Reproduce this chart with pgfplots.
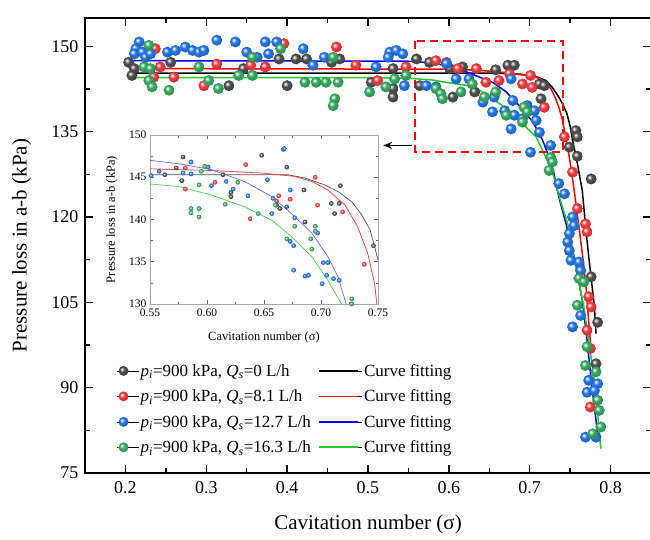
\documentclass[border=0pt]{standalone}
\usepackage{fontspec}
\setmainfont{Liberation Serif}
\usepackage{pgfplots}
\pgfplotsset{compat=1.18}
\usetikzlibrary{arrows.meta}
\definecolor{cblk}{HTML}{4E4E4E}
\definecolor{cred}{HTML}{EE3B3F}
\definecolor{cblu}{HTML}{2475E0}
\definecolor{cgrn}{HTML}{38A862}
\definecolor{lgreen}{HTML}{22CC22}
\colorlet{ballc}{red}
\pgfdeclareradialshading[ballc]{myball}{\pgfqpoint{-9bp}{9bp}}{%
  color(0bp)=(white);
  color(5bp)=(ballc!35!white);
  color(12bp)=(ballc);
  color(26bp)=(ballc!85!black);
  color(40bp)=(ballc!65!black);
  color(50bp)=(ballc!60!black)}
\pgfdeclareplotmark{myball}{%
  \pgfpathcircle{\pgfpointorigin}{\pgfplotmarksize}%
  \pgfshadepath{myball}{0}%
  \pgfusepath{discard}}
\tikzset{myball color/.code={\colorlet{ballc}{#1}}}
\pgfplotsset{ballmark/.style={only marks, mark=myball, mark options={myball color=#1}}}
\begin{document}
\begin{tikzpicture}
\path[use as bounding box] (-85pt,-66pt) rectangle (565pt,473pt);
\begin{axis}[
  at={(0pt,0pt)}, anchor=south west,
  scale only axis, width=566pt, height=455pt,
  xmin=0.15, xmax=0.85, ymin=75, ymax=155,
  xtick={0.2,0.3,0.4,0.5,0.6,0.7,0.8},
  xticklabels={0.2,0.3,0.4,0.5,0.6,0.7,0.8},
  ytick={75,90,105,120,135,150},
  yticklabels={75,90,105,120,135,150},
  minor x tick num=1, minor y tick num=1,
  tick align=inside,
  major tick length=8pt, minor tick length=5pt,
  axis line style={line width=1.6pt},
  every tick/.style={black, line width=1.3pt},
  /pgf/number format/assume math mode=true,
  ticklabel style={font=\fontsize{18}{20}\selectfont},
  xticklabel style={yshift=-5pt},
  yticklabel style={xshift=-3pt},
  label style={font=\fontsize{21}{24}\selectfont},
  xlabel={Cavitation number (σ)},
  ylabel={Pressure loss in a-b (kPa)},
  xlabel style={at={(axis description cs:0.5,-0.114)}, anchor=center},
  ylabel style={at={(axis description cs:-0.112,0.5)}, anchor=center, rotate=0},
  legend columns=2,
  legend cell align=left,
  legend style={draw=none, fill=none, at={(0.055,0.244)}, anchor=north west,
    inner sep=0pt, font=\fontsize{17}{19}\selectfont, row sep=8pt,
    /tikz/every even column/.append style={column sep=5pt}},
]
% ---- scatter data ----
\addplot[ballmark=cblk, mark size=5.5pt, forget plot] coordinates {
(0.204,147.2)(0.211,146.1)(0.208,144.9)(0.256,147.2)(0.328,143.1)(0.346,146.1)(0.390,147.8)(0.400,143.1)
(0.411,147.8)(0.424,147.8)(0.455,147.2)(0.465,147.8)(0.504,143.7)(0.531,142.6)(0.531,141.1)(0.531,146.1)
(0.560,147.8)(0.564,143.1)(0.576,147.2)(0.601,146.1)(0.605,141.1)(0.632,142.0)(0.617,146.4)(0.673,146.7)
(0.681,146.7)(0.658,145.9)(0.712,143.4)(0.718,143.1)(0.714,140.8)(0.757,135.2)(0.759,134.1)(0.749,132.3)
(0.759,130.7)(0.776,126.7)(0.776,109.5)(0.784,101.5)(0.782,94.2)};
\addplot[ballmark=cred, mark size=5.5pt, forget plot] coordinates {
(0.237,149.6)(0.243,146.4)(0.235,144.6)(0.260,144.6)(0.297,143.1)(0.313,146.9)(0.355,146.7)(0.373,146.4)
(0.396,150.5)(0.461,149.9)(0.485,146.7)(0.512,144.0)(0.547,146.4)(0.584,147.5)(0.597,147.2)(0.611,146.1)
(0.634,146.1)(0.646,143.7)(0.662,144.0)(0.675,145.2)(0.691,143.4)(0.701,144.9)(0.703,142.8)(0.718,139.3)
(0.743,134.1)(0.753,127.9)(0.759,121.5)(0.769,118.8)(0.771,117.4)(0.773,106.0)(0.776,104.2)(0.771,100.1)
(0.775,96.9)(0.775,86.6)};
\addplot[ballmark=cblu, mark size=5.5pt, forget plot] coordinates {
(0.217,150.8)(0.213,149.6)(0.211,148.7)(0.221,149.0)(0.225,148.1)(0.231,148.7)(0.252,149.0)(0.262,149.3)
(0.274,149.9)(0.283,149.3)(0.291,149.0)(0.297,149.3)(0.313,151.1)(0.336,150.8)(0.350,149.0)(0.373,150.8)
(0.387,150.8)(0.377,148.7)(0.363,148.1)(0.420,149.6)(0.446,148.1)(0.432,146.7)(0.527,149.0)(0.535,149.3)
(0.543,148.7)(0.525,148.1)(0.545,143.1)(0.572,143.1)(0.584,142.9)(0.597,147.0)(0.609,144.3)(0.625,144.3)
(0.642,140.2)(0.654,138.5)(0.656,141.1)(0.510,146.4)(0.669,138.7)(0.677,144.3)(0.679,140.5)(0.681,137.9)
(0.691,137.3)(0.697,139.6)(0.706,138.7)(0.708,137.0)(0.712,134.9)(0.677,135.5)(0.726,132.6)(0.701,131.4)
(0.736,125.9)(0.743,124.1)(0.753,120.0)(0.755,118.5)(0.749,117.1)(0.747,115.6)(0.749,114.1)(0.751,112.4)
(0.761,112.1)(0.763,110.6)(0.763,102.7)(0.753,100.7)(0.773,91.3)(0.784,90.7)(0.771,89.2)(0.780,89.5)
(0.769,81.3)(0.782,81.3)};
\addplot[ballmark=cgrn, mark size=5.5pt, forget plot] coordinates {
(0.229,150.2)(0.223,146.4)(0.231,146.1)(0.229,144.0)(0.233,142.9)(0.254,142.3)(0.291,146.4)(0.303,144.0)
(0.315,142.6)(0.340,144.9)(0.357,148.1)(0.357,144.9)(0.392,149.6)(0.457,148.1)(0.422,143.7)(0.436,143.7)
(0.448,143.7)(0.463,143.7)(0.459,140.8)(0.457,139.6)(0.502,142.0)(0.522,142.9)(0.533,144.3)(0.547,144.9)
(0.584,142.6)(0.590,141.7)(0.592,140.8)(0.615,142.0)(0.629,143.4)(0.644,141.1)(0.658,142.0)(0.671,137.9)
(0.691,136.7)(0.693,139.3)(0.697,138.5)(0.726,130.5)(0.728,129.7)(0.724,128.2)(0.761,109.2)(0.767,108.6)
(0.759,104.5)(0.771,97.2)(0.769,93.9)(0.782,92.8)(0.784,87.8)(0.786,86.0)(0.788,83.1)(0.778,81.9)};
% ---- fitted curves ----
\addplot[black, line width=1.5pt, forget plot] coordinates {
(0.205,145.3)(0.60,145.3)(0.65,145.3)(0.68,145.2)(0.69,145.1)(0.70,144.9)(0.71,144.6)(0.72,144.0)(0.728,142.8)
(0.736,141.1)(0.741,139.8)(0.746,138.2)(0.750,136.0)(0.753,133.5)(0.756,131.5)(0.759,129.4)(0.762,127.0)
(0.765,124.7)(0.769,118.5)(0.773,113.0)(0.777,108.0)(0.780,104.2)(0.782,99.5)};
\addplot[red, line width=1.5pt, forget plot] coordinates {
(0.22,146.1)(0.60,146.0)(0.638,145.8)(0.67,145.4)(0.69,145.0)(0.70,144.9)(0.712,144.4)(0.72,143.6)(0.726,142.6)
(0.731,141.2)(0.736,139.3)(0.740,137.4)(0.743,135.2)(0.746,133.0)(0.749,130.5)(0.752,127.7)(0.755,124.7)
(0.759,120.3)(0.763,115.9)(0.767,111.4)(0.770,107.1)(0.773,101.5)(0.776,96.5)};
\addplot[blue, line width=1.5pt, forget plot] coordinates {
(0.205,147.5)(0.55,147.4)(0.58,147.1)(0.60,146.5)(0.62,145.6)(0.638,144.6)(0.654,143.7)(0.671,142.0)
(0.687,139.6)(0.704,136.7)(0.716,133.5)(0.724,130.5)(0.730,127.6)(0.736,123.5)(0.745,118.8)(0.755,113.0)
(0.765,105.4)(0.771,98.3)(0.777,90.0)(0.784,82.0)};
\addplot[lgreen, line width=1.5pt, forget plot] coordinates {
(0.21,144.5)(0.50,144.5)(0.55,144.4)(0.58,144.1)(0.60,143.6)(0.625,143.1)(0.638,142.3)(0.654,140.8)
(0.675,138.7)(0.691,136.4)(0.708,134.1)(0.720,130.5)(0.730,127.0)(0.738,122.9)(0.747,118.8)(0.757,111.2)
(0.767,104.2)(0.771,100.1)(0.780,91.3)(0.784,85.4)(0.788,79.3)};
% ---- legend ----
\addlegendimage{legend image code/.code={\path (-7pt,0pt) -- (15pt,0pt);\draw[only marks, mark=myball, mark size=5pt, myball color=cblk] plot coordinates {(0pt,0pt)};}}
\addlegendentry{\textit{p}\textsubscript{\textit{i}}=900 kPa, \textit{Q}\textsubscript{\textit{s}}=0 L/h}
\addlegendimage{legend image code/.code={\path (0pt,0pt) -- (43pt,0pt);\draw[black, line width=1.7pt] (0pt,0pt) -- (39pt,0pt);}}
\addlegendentry{Curve fitting}
\addlegendimage{legend image code/.code={\path (-7pt,0pt) -- (15pt,0pt);\draw[only marks, mark=myball, mark size=5pt, myball color=cred] plot coordinates {(0pt,0pt)};}}
\addlegendentry{\textit{p}\textsubscript{\textit{i}}=900 kPa, \textit{Q}\textsubscript{\textit{s}}=8.1 L/h}
\addlegendimage{legend image code/.code={\path (0pt,0pt) -- (43pt,0pt);\draw[red, line width=1.7pt] (0pt,0pt) -- (39pt,0pt);}}
\addlegendentry{Curve fitting}
\addlegendimage{legend image code/.code={\path (-7pt,0pt) -- (15pt,0pt);\draw[only marks, mark=myball, mark size=5pt, myball color=cblu] plot coordinates {(0pt,0pt)};}}
\addlegendentry{\textit{p}\textsubscript{\textit{i}}=900 kPa, \textit{Q}\textsubscript{\textit{s}}=12.7 L/h}
\addlegendimage{legend image code/.code={\path (0pt,0pt) -- (43pt,0pt);\draw[blue, line width=1.7pt] (0pt,0pt) -- (39pt,0pt);}}
\addlegendentry{Curve fitting}
\addlegendimage{legend image code/.code={\path (-7pt,0pt) -- (15pt,0pt);\draw[only marks, mark=myball, mark size=5pt, myball color=cgrn] plot coordinates {(0pt,0pt)};}}
\addlegendentry{\textit{p}\textsubscript{\textit{i}}=900 kPa, \textit{Q}\textsubscript{\textit{s}}=16.3 L/h}
\addlegendimage{legend image code/.code={\path (0pt,0pt) -- (43pt,0pt);\draw[lgreen, line width=1.7pt] (0pt,0pt) -- (39pt,0pt);}}
\addlegendentry{Curve fitting}
% ---- zoom box and arrow ----
\draw[red, line width=1.8pt, dash pattern=on 8pt off 5pt] (axis cs:0.558,150.9) rectangle (axis cs:0.7416,131.5);
\draw[-{Stealth[length=9pt,width=7pt]}, line width=1.6pt] (axis cs:0.5547,132.6) -- (axis cs:0.5188,132.6);
\end{axis}
% ---- inset ----
\begin{axis}[
  at={(65pt,169pt)}, anchor=south west,
  scale only axis, width=228pt, height=169pt,
  xmin=0.55, xmax=0.75, ymin=130, ymax=150,
  axis background/.style={fill=white},
  xtick={0.55,0.60,0.65,0.70,0.75},
  xticklabels={0.55,0.60,0.65,0.70,0.75},
  ytick={130,135,140,145,150},
  yticklabels={130,135,140,145,150},
  minor x tick num=1, minor y tick num=1,
  tick align=inside,
  major tick length=4pt, minor tick length=2.5pt,
  axis line style={gray!70, line width=0.8pt},
  every tick/.style={gray!80!black, line width=0.6pt},
  /pgf/number format/assume math mode=true,
  ticklabel style={font=\fontsize{11.5}{13}\selectfont},
  xticklabel style={yshift=-1.5pt},
  label style={font=\fontsize{12.5}{14}\selectfont},
  xlabel={Cavitation number (σ)},
  ylabel={Pressure loss in a-b (kPa)},
  xlabel style={at={(axis description cs:0.5,-0.2)}, anchor=center},
  ylabel style={at={(axis description cs:-0.167,0.5)}, anchor=center},
]
\addplot[ballmark=cblk, mark size=2.4pt] coordinates {
(0.579,147.4)(0.573,146.1)(0.563,145.3)(0.578,144.6)(0.614,145.3)(0.621,143.2)(0.621,142.7)(0.648,147.6)
(0.670,146.2)(0.664,141.3)(0.661,141.7)(0.685,143.5)(0.686,139.7)(0.709,141.9)(0.716,141.9)(0.717,144.0)
(0.712,140.7)(0.746,136.9)};
\addplot[ballmark=cred, mark size=2.4pt] coordinates {
(0.581,143.6)(0.581,146.1)(0.607,144.4)(0.634,146.5)(0.638,140.1)(0.663,142.8)(0.661,142.2)(0.673,142.4)
(0.695,145.0)(0.697,141.7)(0.719,140.9)(0.738,134.7)};
\addplot[ballmark=cblu, mark size=2.4pt] coordinates {
(0.551,145.2)(0.558,145.7)(0.579,145.5)(0.586,146.8)(0.586,145.4)(0.601,146.2)(0.604,144.0)(0.617,144.5)
(0.623,143.6)(0.636,142.8)(0.653,144.7)(0.658,142.5)(0.657,140.7)(0.667,148.3)(0.668,148.4)(0.673,143.5)
(0.670,141.5)(0.677,140.2)(0.673,137.4)(0.676,136.9)(0.676,134.0)(0.686,133.3)(0.689,133.4)(0.697,138.4)
(0.702,134.9)(0.706,134.9)(0.701,132.4)(0.705,133.4)(0.711,133.0)(0.716,132.8)};
\addplot[ballmark=cgrn, mark size=2.4pt] coordinates {
(0.595,145.7)(0.598,146.3)(0.593,144.1)(0.586,141.3)(0.586,140.8)(0.593,141.3)(0.593,140.3)(0.616,141.8)
(0.627,144.4)(0.645,140.7)(0.660,141.7)(0.670,137.7)(0.677,139.2)(0.692,136.5)(0.695,139.2)(0.695,138.6)
(0.691,137.7)(0.727,130.6)(0.727,130.0)};
\addplot[black!70, line width=0.7pt] coordinates {
(0.55,145.3)(0.671,145.3)(0.686,144.9)(0.703,144.1)(0.715,143.3)(0.727,142.1)(0.735,140.7)(0.743,138.8)
(0.747,136.8)(0.750,135.2)};
\addplot[red!80, line width=0.7pt] coordinates {
(0.55,146.0)(0.604,145.8)(0.648,145.5)(0.677,145.1)(0.692,144.5)(0.706,143.5)(0.721,141.7)(0.732,139.2)
(0.741,136.0)(0.747,132.4)(0.749,130.0)};
\addplot[blue!60, line width=0.7pt] coordinates {
(0.55,147.0)(0.575,146.6)(0.604,145.9)(0.633,144.5)(0.657,142.7)(0.674,140.7)(0.692,138.4)(0.706,135.6)
(0.715,133.2)(0.722,130.0)};
\addplot[lgreen!85, line width=0.7pt] coordinates {
(0.55,144.2)(0.575,143.9)(0.604,142.9)(0.633,141.5)(0.657,139.9)(0.674,138.0)(0.692,135.6)(0.706,132.8)
(0.718,130.0)};
\end{axis}
\end{tikzpicture}
\end{document}
